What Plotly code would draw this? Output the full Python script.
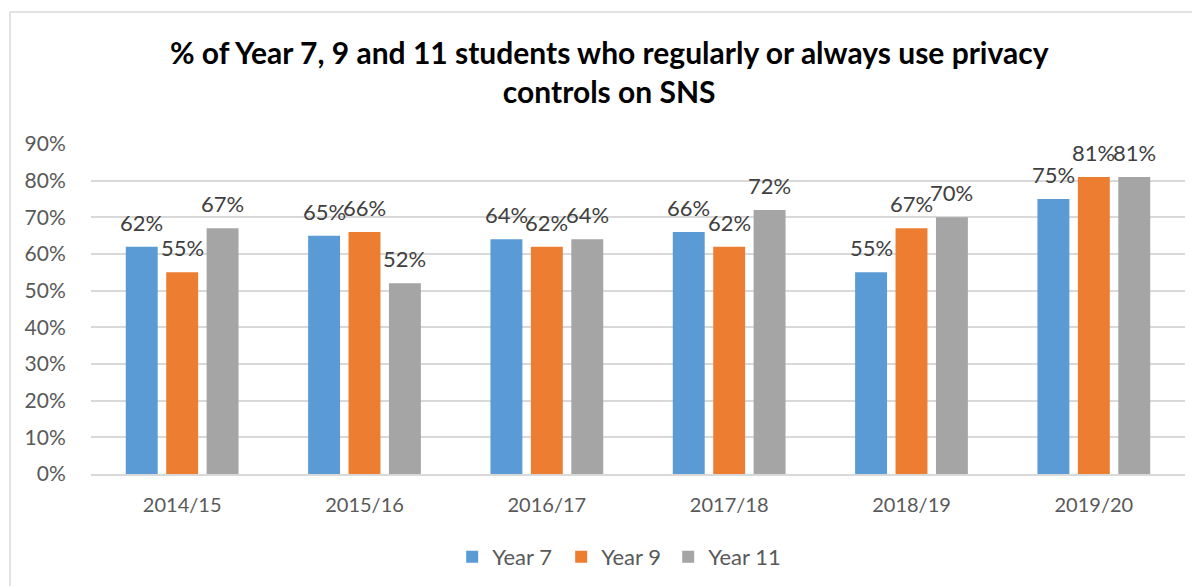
import plotly.graph_objects as go

categories = ["2014/15", "2015/16", "2016/17", "2017/18", "2018/19", "2019/20"]
year7 = [0.62, 0.65, 0.64, 0.66, 0.55, 0.75]
year9 = [0.55, 0.66, 0.62, 0.62, 0.67, 0.81]
year11 = [0.67, 0.52, 0.64, 0.72, 0.70, 0.81]
series_names = ["Year 7", "Year 9", "Year 11"]
series_values = [year7, year9, year11]
colors = ["#5B9BD5", "#ED7D31", "#A5A5A5"]
y_ticks = [i / 10 for i in range(10)]

FONT = "Lato, Open Sans, sans-serif"
legend_widths = [64, 62, 80]

fig = go.Figure()
for name, vals, col, lw in zip(series_names, series_values, colors, legend_widths):
    fig.add_trace(go.Bar(name=name, x=categories, y=vals, marker_color=col,
                         marker_line_width=0, legendwidth=lw))

# page body has an 8px margin, so layout is expressed in figure coords
L, R, T, B = 83, 23, 136, 120
plot_w = 1200 - L - R
plot_h = 586 - T - B
cat_w = plot_w / len(categories)
bargap = 0.335
slot = (1 - bargap) * cat_w / 3
for si, vals in enumerate(series_values):
    xs = (si - 1) * slot
    for c, v in zip(categories, vals):
        fig.add_annotation(x=c, y=v, text=f"{round(v*100)}%", showarrow=False,
                           xref="x", yref="y", xshift=xs, yshift=9,
                           yanchor="bottom",
                           font=dict(family=FONT, size=22, color="#404040"))

fig.add_shape(type="rect", xref="paper", yref="paper",
              x0=(2 - L) / plot_w, x1=1.5, y0=-1.0, y1=1 + (T - 4) / plot_h,
              line=dict(color="#D9D9D9", width=1.5), fillcolor="rgba(0,0,0,0)",
              layer="below")

fig.update_layout(
    width=1200, height=586,
    paper_bgcolor="white", plot_bgcolor="white",
    margin=dict(l=L, r=R, t=T, b=B),
    title=dict(text="% of Year 7, 9 and 11 students who regularly or always use privacy<br>controls on SNS",
               x=0.501, xanchor="center", y=0.904, yanchor="middle",
               font=dict(family=FONT, size=30, color="#000000", weight="bold")),
    barmode="group", bargap=bargap, bargroupgap=0.21,
    font=dict(family=FONT, color="#595959", size=21),
    legend=dict(orientation="h", x=0.486, xanchor="center", y=-83 / plot_h, yanchor="middle",
                font=dict(family=FONT, size=22, color="#595959"),
                itemwidth=30, traceorder="normal"),
    showlegend=True,
)
fig.update_xaxes(showline=True, linecolor="#D9D9D9", linewidth=1.5,
                 tickfont=dict(family=FONT, size=20, color="#595959"),
                 ticks="", ticklabelstandoff=12)
fig.update_yaxes(range=[0, 0.9], tickvals=y_ticks, tickformat=".0%",
                 gridcolor="#D9D9D9", gridwidth=1.5, zeroline=False,
                 tickfont=dict(family=FONT, size=21, color="#595959"),
                 ticks="outside", ticklen=20, tickcolor="rgba(0,0,0,0)")

fig.write_html("out.html")
